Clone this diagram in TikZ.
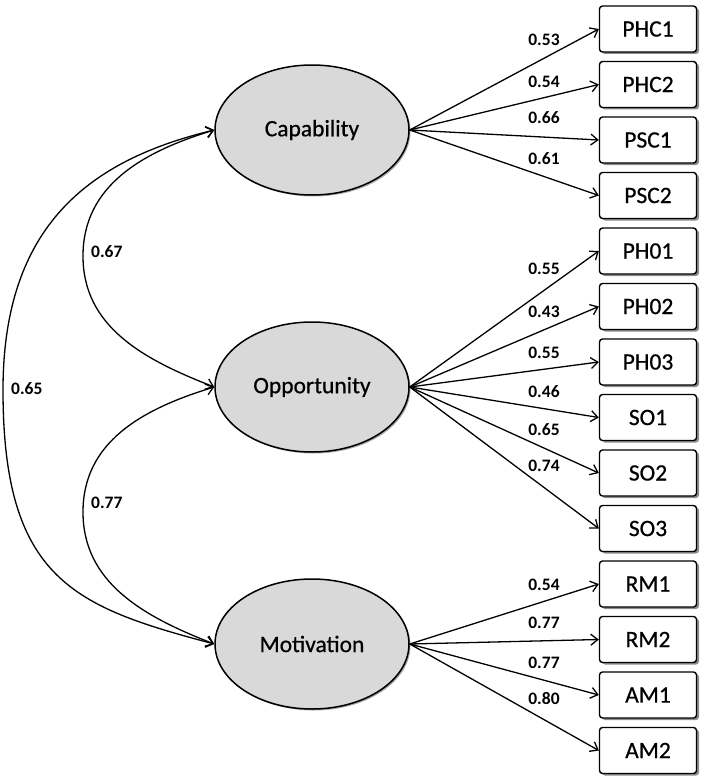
\documentclass[tikz,border=0pt]{standalone}
\usepackage{fontspec}
\setmainfont{Carlito}
\newfontfamily\namefont{Carlito}[FakeBold=0.6]
\usetikzlibrary{arrows.meta,shadows,shapes.geometric}
\definecolor{latfill}{HTML}{D9D9D9}
\begin{document}
\begin{tikzpicture}[x=1pt,y=-1pt,
  latent/.style={ellipse, draw, line width=1.5pt, fill=latfill, minimum width=194pt, minimum height=130pt, inner sep=0pt,
    font=\namefont\fontsize{23.5}{28}\selectfont,
    drop shadow={shadow xshift=1.5pt, shadow yshift=-1.5pt, opacity=0.35, fill=black}},
  obs/.style={rectangle, rounded corners=3pt, draw, line width=1.4pt, fill=white, minimum width=97pt, minimum height=46pt, inner sep=0pt,
    font=\namefont\fontsize{23.5}{28}\selectfont,
    drop shadow={shadow xshift=2.5pt, shadow yshift=-2pt, opacity=0.45, fill=black}},
  load/.style={-{Straight Barb[length=7pt,width=11pt,line width=1.3pt]}, line width=1.3pt},
  cov/.style={{Straight Barb[length=7pt,width=11pt,line width=1.3pt]}-{Straight Barb[length=7pt,width=11pt,line width=1.3pt]}, line width=1.3pt},
  lbl/.style={font=\bfseries\fontsize{17.5}{20}\selectfont, inner sep=0pt}]
\useasboundingbox (0,0) rectangle (708,781);

% latent variables
\node[latent] (cap) at (312,130) {Capability};
\node[latent] (opp) at (312,387) {Opportunity};
\node[latent] (mot) at (312,644) {Motivation};

% observed variables
\node[obs] (phc1) at (648,29)    {PHC1};
\node[obs] (phc2) at (648,84.5)  {PHC2};
\node[obs] (psc1) at (648,140)   {PSC1};
\node[obs] (psc2) at (648,195.5) {PSC2};
\node[obs] (ph01) at (648,251)   {PH01};
\node[obs] (ph02) at (648,306.5) {PH02};
\node[obs] (ph03) at (648,362)   {PH03};
\node[obs] (so1)  at (648,417.5) {SO1};
\node[obs] (so2)  at (648,473)   {SO2};
\node[obs] (so3)  at (648,528.5) {SO3};
\node[obs] (rm1)  at (648,584)   {RM1};
\node[obs] (rm2)  at (648,639.5) {RM2};
\node[obs] (am1)  at (648,695)   {AM1};
\node[obs] (am2)  at (648,750.5) {AM2};

% loadings
\foreach \t in {phc1,phc2,psc1,psc2} \draw[load] (cap.east) -- (\t.west);
\foreach \t in {ph01,ph02,ph03,so1,so2,so3} \draw[load] (opp.east) -- (\t.west);
\foreach \t in {rm1,rm2,am1,am2} \draw[load] (mot.east) -- (\t.west);

\node[lbl] (l1)  at (544,40)  {0.53};
\node[lbl] (l2)  at (544,82)  {0.54};
\node[lbl] (l3)  at (544,118) {0.66};
\node[lbl] (l4)  at (544,159) {0.61};
\node[lbl] (l5)  at (544,269) {0.55};
\node[lbl] (l6)  at (544,312) {0.43};
\node[lbl] (l7)  at (544,353) {0.55};
\node[lbl] (l8)  at (544,392) {0.46};
\node[lbl] (l9)  at (544,430) {0.65};
\node[lbl] (l10) at (544,466) {0.74};
\node[lbl] (l11) at (544,585) {0.54};
\node[lbl] (l12) at (544,623) {0.77};
\node[lbl] (l13) at (544,663) {0.77};
\node[lbl] (l14) at (544,699) {0.80};

% covariances
\draw[cov] (cap.west) .. controls (142,152) and (83,186) .. (83,256)
                      .. controls (83,326) and (142,359) .. (opp.west);
\draw[cov] (opp.west) .. controls (142,409) and (83,442) .. (83,512)
                      .. controls (83,582) and (142,616) .. (mot.west);
\draw[cov] (cap.west) .. controls (90,160) and (3,225) .. (3,390)
                      .. controls (3,580) and (75,607) .. (mot.west);

\node[lbl, anchor=west] (c1) at (91,252) {0.67};
\node[lbl, anchor=west] (c2) at (91,503) {0.77};
\node[lbl, anchor=west] (c3) at (11,389) {0.65};
\end{tikzpicture}
\end{document}
